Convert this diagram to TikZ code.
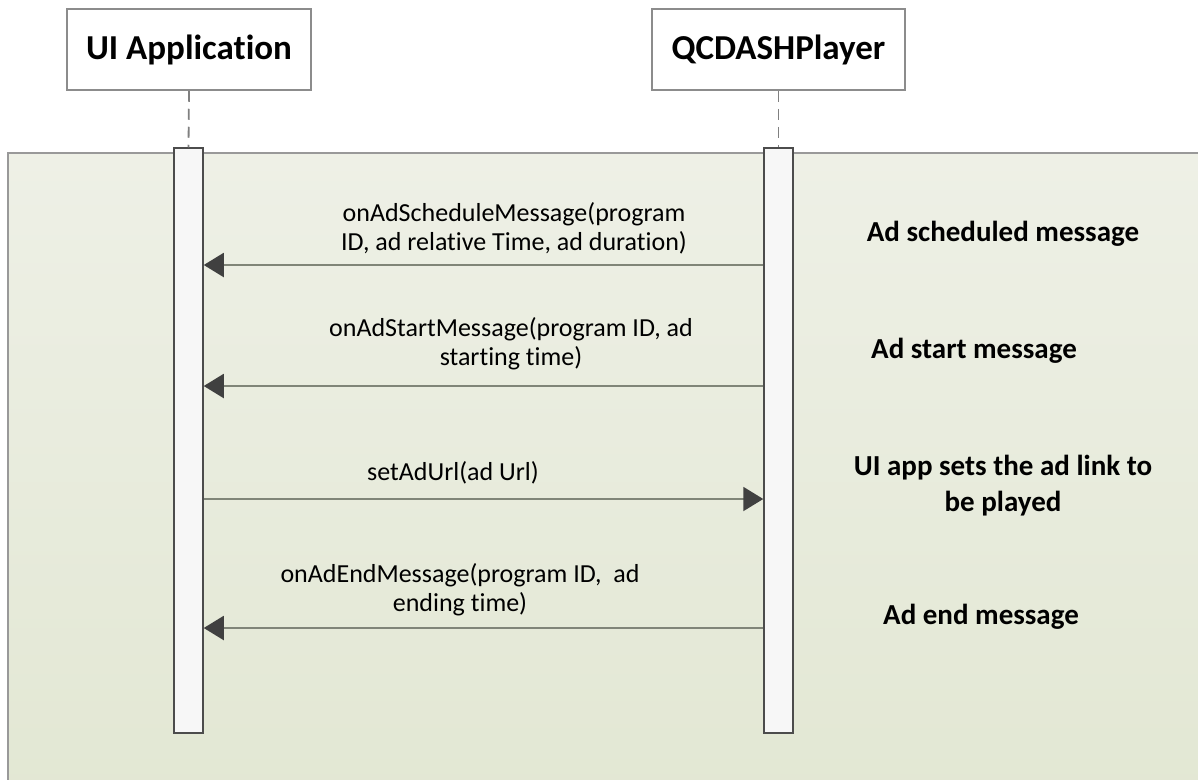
\documentclass[tikz,border=0pt]{standalone}
\usepackage{fontspec}
\setmainfont{Carlito}[Ligatures=NoCommon]
\usetikzlibrary{arrows.meta}

\definecolor{bgtop}{RGB}{238,240,230}
\definecolor{bgbot}{RGB}{226,231,211}
\definecolor{msgline}{RGB}{128,133,120}
\definecolor{tipcol}{RGB}{64,64,64}
\definecolor{barfill}{RGB}{247,247,247}

\begin{document}
\begin{tikzpicture}[x=1pt,y=-1pt,
    actor/.style={draw=gray!90,fill=white,line width=1.5pt,minimum width=244pt,minimum height=81pt,font=\fontsize{35}{40}\selectfont\bfseries},
    actbar/.style={draw=black!70,fill=barfill,line width=1.5pt,minimum width=29pt,minimum height=585pt,inner sep=0pt},
    lifeline/.style={draw=gray,line width=1.8pt,dash pattern=on 11pt off 7pt},
    msg/.style={draw=msgline,line width=2pt,-{Triangle[length=20pt,width=24pt,color=tipcol]}},
    msgtext/.style={align=center,font=\fontsize{26}{29}\selectfont},
    note/.style={align=center,font=\fontsize{29}{36}\selectfont\bfseries}]
    \useasboundingbox (0,0) rectangle (1198,779);
    \clip (0,0) rectangle (1198,779);

    % frame behind the messages
    \shade[top color=bgtop,bottom color=bgbot,draw=gray!80,line width=1.5pt] (8,153) rectangle (1230,810);

    % actors
    \node[actor] (ui) at (189,49.5) {UI Application};
    \node[actor,minimum width=253pt] (qc) at (778.5,49.5) {QCDASHPlayer};
    \node[actbar] (uibar) at (188.5,440.5) {};
    \node[actbar] (qcbar) at (778.5,440.5) {};
    \draw[lifeline] (ui.south) -- (uibar.north);
    \draw[lifeline] (qc.south) -- (qcbar.north);

    % message heights
    \coordinate (m1) at (0,265);
    \coordinate (m2) at (0,386);
    \coordinate (m3) at (0,499);
    \coordinate (m4) at (0,628);

    \draw[msg] (qcbar.west |- m1) -- (uibar.east |- m1);
    \draw[msg] (qcbar.west |- m2) -- (uibar.east |- m2);
    \draw[msg] (uibar.east |- m3) -- (qcbar.west |- m3);
    \draw[msg] (qcbar.west |- m4) -- (uibar.east |- m4);

    \node[msgtext] (t1) at (514,228) {onAdScheduleMessage(program\\ID, ad relative Time, ad duration)};
    \node[msgtext] (t2) at (511,344) {onAdStartMessage(program ID, ad\\starting time)};
    \node[msgtext] (t3) at (453,473) {setAdUrl(ad Url)};
    \node[msgtext] (t4) at (460,590) {onAdEndMessage(program ID,\ \ ad\\ending time)};

    % notes on the right
    \node[note] (n1) at (1003,234) {Ad scheduled message};
    \node[note] (n2) at (974,351) {Ad start message};
    \node[note] (n3) at (1003,486) {UI app sets the ad link to\\be played};
    \node[note] (n4) at (981,617) {Ad end message};
\end{tikzpicture}
\end{document}
